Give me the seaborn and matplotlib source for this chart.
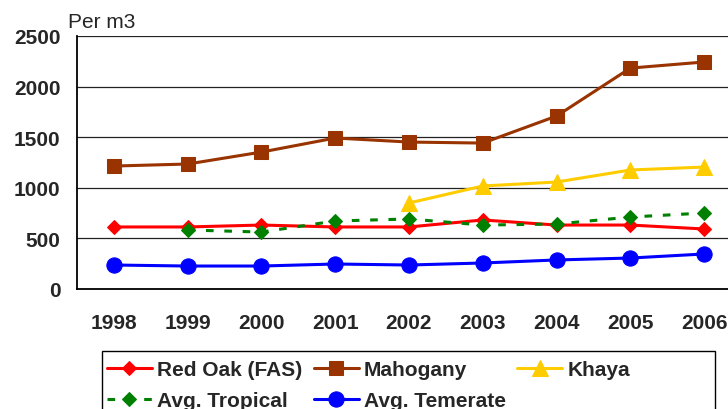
import matplotlib.pyplot as plt
import matplotlib.patches as mpatches
import numpy as np
import pandas as pd
import seaborn as sns

sns.set_style("white")
plt.rcParams["font.family"] = ["Liberation Sans", "DejaVu Sans"]
plt.rcParams["font.size"] = 15

years = ["1998", "1999", "2000", "2001", "2002", "2003", "2004", "2005", "2006"]
red_oak = [613, 613, 632, 613, 613, 682, 632, 632, 593]
mahogany = [1215, 1235, 1353, 1492, 1452, 1442, 1709, 2183, 2243]
khaya = [np.nan, np.nan, np.nan, np.nan, 850, 1018, 1057, 1176, 1205]
avg_tropical = [np.nan, 583, 563, 672, 692, 632, 642, 711, 751]
avg_temerate = [237, 227, 227, 247, 237, 257, 287, 306, 346]

# label, values, color, marker, markersize, linestyle, linewidth
series = [
    ("Red Oak (FAS)", red_oak, "#FF0000", "D", 7, "-", 2.2),
    ("Mahogany", mahogany, "#993300", "s", 10, "-", 2.2),
    ("Khaya", khaya, "#FFCC00", "^", 11, "-", 2.2),
    ("Avg. Tropical", avg_tropical, "#008000", "D", 7, (0, (2.5, 3.5)), 2.2),
    ("Avg. Temerate", avg_temerate, "#0000FF", "o", 11, "-", 2.2),
]

fig = plt.figure(figsize=(7.28, 4.10), dpi=100)
ax = fig.add_axes([77 / 728, 1 - 290 / 410, 664 / 728, 253 / 410])

handles = {}
for label, values, color, marker, ms, ls, lw in series:
    df = pd.DataFrame({"pos": np.arange(len(years)), "value": values}).dropna()
    sns.lineplot(data=df, x="pos", y="value", ax=ax, color=color, marker=marker,
                 markersize=ms, markeredgecolor=color, linestyle=ls, linewidth=lw,
                 label=label)
    handles[label] = ax.get_lines()[-1]

if ax.get_legend() is not None:
    ax.get_legend().remove()

ax.set_xlim(-0.5, len(years) - 0.5)
ax.set_ylim(0, 2500)
ax.set_yticks(range(0, 2501, 500))
ax.set_xticks(range(len(years)))
ax.set_xticklabels(years)
ax.set_xticks(np.arange(-0.5, len(years)), minor=True)
ax.set_xlabel("")
ax.set_ylabel("")
ax.grid(axis="y", color="#222222", linewidth=0.9)
ax.set_axisbelow(True)
for s in ["top", "right"]:
    ax.spines[s].set_visible(False)
for s in ["left", "bottom"]:
    ax.spines[s].set_color("black")
    ax.spines[s].set_linewidth(1.3)
ax.tick_params(axis="x", which="major", length=0, pad=17)
ax.tick_params(axis="x", which="minor", length=5, width=1.1, color="black", direction="out")
ax.tick_params(axis="y", length=5, width=1.1, color="black", direction="out", pad=7)
ax.tick_params(labelsize=15)
for t in ax.get_xticklabels() + ax.get_yticklabels():
    t.set_fontweight("bold")

fig.text(68 / 728, 1 - 23 / 410, "Per m3", fontsize=15, va="center", ha="left")

order = ["Red Oak (FAS)", "Avg. Tropical", "Mahogany", "Avg. Temerate", "Khaya"]
leg = fig.legend([handles[k] for k in order], order, loc="upper left",
                 bbox_to_anchor=(107 / 728, 1 - 361 / 410), ncol=3, frameon=False,
                 borderpad=0, borderaxespad=0, handlelength=2.15, handletextpad=0.25,
                 columnspacing=0.55, labelspacing=0.6,
                 prop={"weight": "bold", "size": 15})
fig.add_artist(mpatches.Rectangle((102 / 728, -0.05), 613 / 728, 0.05 + 1 - 352 / 410,
                                  transform=fig.transFigure, fill=False,
                                  edgecolor="black", linewidth=1.0, clip_on=False))

fig.savefig("out.png", dpi=100)
